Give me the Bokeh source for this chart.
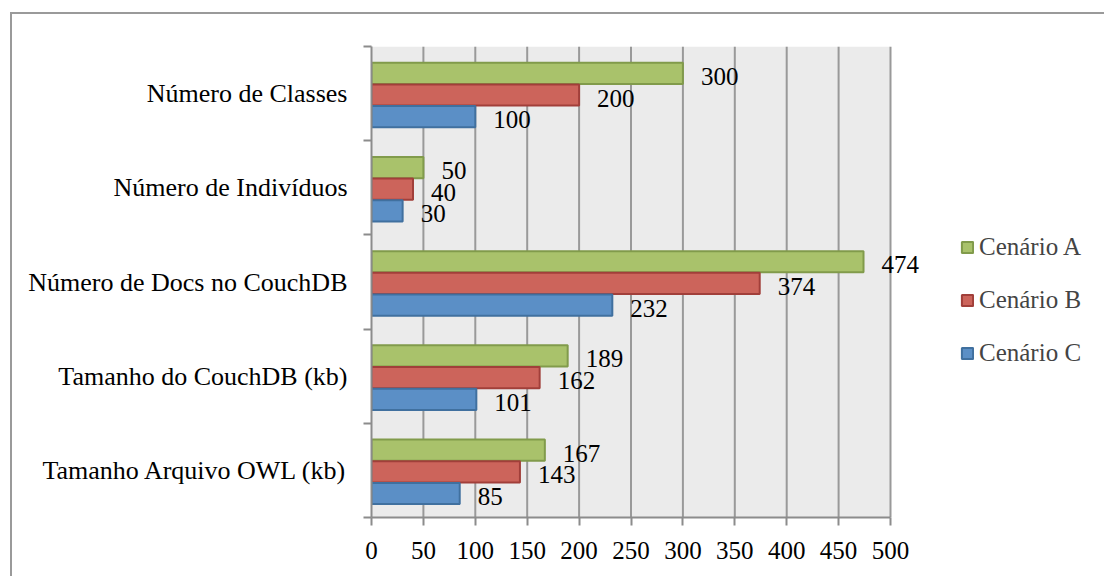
from bokeh.plotting import figure
from bokeh.models import (ColumnDataSource, FixedTicker, Legend, LegendItem,
                          Range1d, LabelSet, InlineStyleSheet)
from bokeh.embed import file_html
from bokeh.resources import INLINE

categories = ["Número de Classes", "Número de Indivíduos",
              "Número de Docs no CouchDB", "Tamanho do CouchDB (kb)",
              "Tamanho Arquivo OWL (kb)"]
series_names = ["Cenário A", "Cenário B", "Cenário C"]
cenario_a = [300, 50, 474, 189, 167]
cenario_b = [200, 40, 374, 162, 143]
cenario_c = [100, 30, 232, 101, 85]
x_ticks = [0, 50, 100, 150, 200, 250, 300, 350, 400, 450, 500]

FONT = "Liberation Serif"
fills = ["#a9c26b", "#cc645b", "#5b8fc6"]
lines = ["#819b4b", "#a13f3a", "#40709f"]
offsets = [0.215, -0.015, -0.245]
bar_h = 0.225

n = len(categories)
centers = [n - i - 0.5 for i in range(n)]
x_max = x_ticks[-1]

# frame: left edge at 371px, axis max (500) at 890px, frame runs to canvas edge
frame_left, axis_right_px, W, H = 371, 890, 1104, 576
x_end = x_max * (W - frame_left) / (axis_right_px - frame_left)

p = figure(width=W, height=H, output_backend="svg", toolbar_location=None,
           x_range=Range1d(0, x_end), y_range=Range1d(0, n),
           min_border_left=frame_left, min_border_right=0,
           min_border_top=46, min_border_bottom=59)
p.background_fill_color = "white"
p.border_fill_color = "white"
p.outline_line_color = None
p.grid.visible = False

# plot area background and vertical gridlines
p.quad(left=0, right=x_max, bottom=0, top=n, fill_color="#ebebeb", line_color=None)
p.segment(x0=x_ticks[1:], y0=0, x1=x_ticks[1:], y1=n,
          line_color="#999999", line_width=2)

renderers = []
for vals, name, fc, lc, off in zip([cenario_a, cenario_b, cenario_c],
                                   series_names, fills, lines, offsets):
    src = ColumnDataSource(dict(y=[c + off for c in centers], v=vals,
                                lab=[str(v) for v in vals]))
    r = p.hbar(y="y", right="v", left=0, height=bar_h, source=src,
               fill_color=fc, line_color=lc, line_width=2)
    renderers.append((name, r))
    p.add_layout(LabelSet(x="v", y="y", text="lab", source=src,
                          x_offset=18, y_offset=-3,
                          text_font=FONT, text_font_size="25px",
                          text_color="black", text_baseline="middle"))

# x axis
p.xaxis.bounds = (0, x_max)
p.xaxis.ticker = FixedTicker(ticks=x_ticks)
p.xaxis.axis_line_color = "#8c8c8c"
p.xaxis.axis_line_width = 2
p.xaxis.major_tick_line_color = "#8c8c8c"
p.xaxis.major_tick_line_width = 2
p.xaxis.major_tick_out = 8
p.xaxis.major_tick_in = 0
p.xaxis.minor_tick_line_color = None
p.xaxis.major_label_text_font = FONT
p.xaxis.major_label_text_font_size = "25px"
p.xaxis.major_label_text_color = "black"
p.xaxis.major_label_standoff = 16

# y axis
p.yaxis.ticker = FixedTicker(ticks=centers, minor_ticks=list(range(n + 1)))
p.yaxis.major_label_overrides = {c: cat for c, cat in zip(centers, categories)}
p.yaxis.axis_line_color = "#8c8c8c"
p.yaxis.axis_line_width = 2
p.yaxis.major_tick_line_color = None
p.yaxis.major_tick_out = 0
p.yaxis.major_tick_in = 0
p.yaxis.minor_tick_line_color = "#8c8c8c"
p.yaxis.minor_tick_line_width = 2
p.yaxis.minor_tick_out = 8
p.yaxis.minor_tick_in = 0
p.yaxis.major_label_text_font = FONT
p.yaxis.major_label_text_font_size = "26px"
p.yaxis.major_label_text_color = "black"
p.yaxis.major_label_standoff = 16

legend = Legend(items=[LegendItem(label=nm, renderers=[r]) for nm, r in renderers],
                location=(589, 150), padding=0, margin=0,
                glyph_width=14, glyph_height=14, label_standoff=5,
                label_height=25, spacing=25,
                label_text_font=FONT, label_text_font_size="25px",
                background_fill_alpha=0, border_line_color=None)
p.add_layout(legend)

# outer chart border (top and left edges, as in the reference)
p.stylesheets = [InlineStyleSheet(css="""
:host::after {
  content: ""; position: absolute; left: 10px; top: 12px; right: 0; bottom: 0;
  border-left: 2px solid #9a9a9a; border-top: 2px solid #9a9a9a;
  pointer-events: none; z-index: 10;
}
""")]

open("out.html", "w").write(file_html(p, INLINE))
